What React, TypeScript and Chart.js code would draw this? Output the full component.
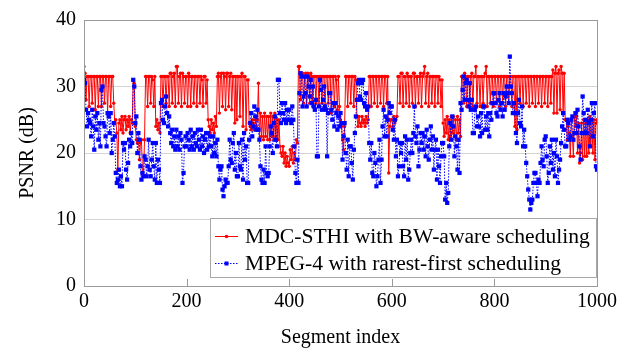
import React, { useEffect, useRef } from "react";
import { Chart, registerables } from "chart.js";

Chart.register(...registerables);

// Segment index spacing between the values listed below
const SEGMENT_STEP = 2;

// MDC-STHI with BW-aware scheduling, PSNR (dB), segments 0,2,4,...,1000
const mdcSthi: number[] = [
  33, 32, 28, 31.5, 31.5, 27, 31.5, 31.5, 27.5, 31.5,
  31.5, 26.5, 31.5, 31.5, 27, 31.5, 31.5, 27, 31.5, 31.5,
  27.5, 31.5, 31.5, 26, 31.5, 31.5, 27, 31.5, 31.5, 27.5,
  24.5, 25, 23, 17.5, 24.5, 25, 23.5, 25.5, 23, 25,
  25.5, 23.5, 25, 24, 25.5, 23, 25, 24.5, 31, 30.5,
  24, 22, 21.5, 22, 19, 21.5, 22, 17, 16.5, 22,
  31.5, 31.5, 27, 31.5, 31.5, 27.5, 31.5, 31, 27, 31.5,
  24, 25, 23.5, 24.5, 23, 31.5, 31.5, 27, 31.5, 31.5,
  27.5, 31.5, 31.5, 27, 32, 32, 27.5, 31.5, 32, 27,
  33, 33, 27.5, 31.5, 32, 27, 32, 31.5, 27.5, 31.5,
  31.5, 27, 32, 31.5, 27, 31.5, 31.5, 27.5, 31.5, 31.5,
  27, 31.5, 31.5, 27.5, 31.5, 31, 27, 31.5, 31.5, 27.5,
  31, 25, 24, 23, 25, 23.5, 24.5, 23, 25.5, 24,
  31.5, 32, 26, 31.5, 32, 27, 32, 31.5, 26.5, 32,
  32, 27, 31.5, 32, 26.5, 31.5, 31.5, 24.5, 31.5, 25,
  31.5, 31.5, 25.5, 31.5, 32, 24, 31.5, 31.5, 23.5, 31,
  31, 24.5, 24, 23.5, 25, 24.5, 23.5, 25, 24, 25,
  30.5, 22, 26, 22.5, 25.5, 22, 26, 22.5, 25.5, 22,
  25.5, 22, 26, 22.5, 25.5, 22, 26, 22.5, 25, 22,
  25, 21, 20, 19.5, 21, 18.5, 20, 18, 19.5, 18.5,
  18, 20.5, 19, 21, 18.5, 20, 19, 22, 21.5, 33,
  33, 28, 32, 32, 27.5, 31.5, 32, 27, 32, 31.5,
  27.5, 32, 31.5, 27, 31.5, 31.5, 27.5, 31.5, 31.5, 27,
  31.5, 31.5, 27.5, 31.5, 31.5, 27, 31.5, 31.5, 27.5, 31.5,
  31.5, 26, 31.5, 31.5, 27, 31.5, 31, 26.5, 31.5, 27,
  25, 24, 22, 20.5, 24, 31.5, 31.5, 27, 31.5, 31.5,
  27.5, 31.5, 31.5, 27, 31.5, 31, 25.5, 24, 25.5, 24.5,
  24, 25.5, 24.5, 25, 24, 25.5, 24.5, 25, 31.5, 31.5,
  27, 31.5, 31.5, 27.5, 31.5, 31.5, 27, 31.5, 31.5, 27.5,
  31.5, 31.5, 27, 31.5, 31.5, 27.5, 31.5, 17, 24, 25,
  25, 24, 25.5, 24.5, 25, 25.5, 31.5, 31.5, 27.5, 32,
  32, 27, 31.5, 31.5, 27.5, 32, 31.5, 27, 31.5, 31.5,
  27.5, 32, 32, 27, 31.5, 31.5, 27.5, 31.5, 32, 27,
  31.5, 32, 33, 27.5, 31.5, 32, 27, 31.5, 31.5, 27.5,
  31.5, 31.5, 27, 31.5, 31.5, 27.5, 31.5, 31, 27, 31,
  24.5, 22.5, 25, 23, 25.5, 22, 25, 22.5, 25.5, 23,
  25.5, 22.5, 25, 22, 25.5, 23, 25, 22.5, 31.5, 31.5,
  27.5, 32, 31.5, 27, 31.5, 31.5, 27.5, 31.5, 32, 27,
  31.5, 31.5, 33, 27.5, 31.5, 31.5, 27, 31.5, 31.5, 27.5,
  31.5, 32, 33, 27, 31.5, 31.5, 27.5, 31.5, 31.5, 27,
  31.5, 31.5, 27.5, 31.5, 31.5, 27, 31.5, 31.5, 27.5, 31.5,
  31.5, 27, 31.5, 31.5, 27.5, 31.5, 31.5, 27, 31.5, 31.5,
  24, 31.5, 23.5, 31.5, 31.5, 27.5, 31.5, 31.5, 27, 31.5,
  31.5, 27.5, 31.5, 31.5, 27, 31.5, 31.5, 27.5, 31.5, 31.5,
  27, 31.5, 31.5, 27.5, 31.5, 31.5, 27, 31.5, 31.5, 27.5,
  31.5, 31.5, 27, 31.5, 31.5, 27.5, 31.5, 32.5, 26, 32,
  33, 26, 32, 32.5, 26.5, 33, 32, 26, 32, 25,
  25, 22, 24, 23, 19.5, 25, 22.5, 19.5, 25.5, 24,
  25.5, 20, 24.5, 18.5, 20, 24.5, 19, 25, 19.5, 24.5,
  19.5, 25, 20, 25.5, 21, 24.5, 20, 25, 19, 24.5,
  25,
];

// MPEG-4 with rarest-first scheduling, PSNR (dB), segments 0,2,4,...,1000
const mpeg4: number[] = [
  31, 30.5, 26.5, 24, 26, 25, 24.5, 22.5, 26.5, 24,
  20.5, 25.5, 23.5, 26, 22, 24.5, 21, 29.5, 30, 24.5,
  24, 22.5, 21, 26, 25.5, 23, 26, 20, 22, 24.5,
  22.5, 17, 15.5, 16, 17.5, 15, 16.5, 15, 21.5, 20.5,
  21.5, 17.5, 16, 18.5, 22, 21, 23, 21.5, 31, 30,
  24.5, 25.5, 20, 23, 22, 18, 16, 17, 16.5, 19.5,
  19, 16.5, 18, 22, 17.5, 16.5, 19, 21.5, 18, 16,
  21.5, 15.5, 19, 17.5, 15.5, 27.5, 28, 25, 24.5, 27,
  28.5, 26, 24, 25.5, 23, 21.5, 23.5, 21, 22.5, 20.5,
  23.5, 21, 22.5, 20.5, 23, 22, 15.5, 17, 21, 22.5,
  21, 23, 22, 20.5, 23.5, 21, 22.5, 20.5, 23, 21.5,
  21, 23.5, 22, 20.5, 23.5, 21, 22.5, 20, 22, 23,
  20.5, 23, 21, 22.5, 21, 19.5, 22.5, 20, 21.5, 19.5,
  22, 18, 16, 17.5, 18, 14.5, 13.5, 15, 16, 15.5,
  15.5, 18, 22, 19, 18.5, 21.5, 23, 17.5, 20, 16.5,
  16.5, 21.5, 18, 17.5, 22, 16, 23, 19, 21, 15.5,
  15.5, 22, 24.5, 26, 22.5, 24, 27, 25.5, 23.5, 26.5,
  23.5, 22, 18, 16, 15.5, 17.5, 15.5, 21, 17, 16.5,
  17, 21, 24, 23, 20, 24.5, 25.5, 22, 21, 31,
  31, 26, 24.5, 27.5, 26, 25, 27.5, 24.5, 26.5, 25,
  26.5, 25, 24.5, 27, 25, 21, 17, 15.5, 19, 15.5,
  29, 32, 31.5, 27, 28.5, 31.5, 29, 27, 31.5, 30,
  28.5, 31, 27.5, 30, 27, 26.5, 28, 19.5, 19.5, 27,
  31, 29.5, 26.5, 28, 30, 27, 26.5, 19.5, 26, 29,
  29, 26.5, 25, 27.5, 24, 27.5, 26, 23.5, 25.5, 24,
  26, 24.5, 19, 22.5, 24.5, 20, 17.5, 22, 16.5, 21,
  21, 18.5, 16, 20.5, 23, 25.5, 28, 30.5, 31, 28.5,
  28, 30.5, 31, 27.5, 27, 29, 26.5, 27, 21.5, 19,
  21.5, 17, 16.5, 20, 18.5, 15, 16.5, 19, 22, 15.5,
  19, 24, 26.5, 22.5, 25.5, 22.5, 25, 27.5, 26, 27,
  27, 23.5, 22, 25, 19.5, 22, 16.5, 18, 21.5, 20,
  21.5, 18, 16.5, 22.5, 19, 22, 16, 17.5, 20, 22,
  20, 23, 27, 22.5, 21.5, 24, 18, 20.5, 23, 21.5,
  23, 20.5, 22.5, 19.5, 23.5, 21, 19, 22, 24, 20.5,
  22.5, 17.5, 20.5, 22, 16, 20.5, 18, 15.5, 19.5, 21.5,
  21.5, 19.5, 13, 15.5, 12.5, 14, 21, 24.5, 22, 25.5,
  24, 19.5, 22.5, 21, 17.5, 22, 17, 27.5, 26.5, 29.5,
  31.5, 28, 30.5, 31, 28, 27, 30.5, 26.5, 28, 23,
  23, 26.5, 27, 24, 25.5, 24, 22.5, 26, 23, 27,
  27, 23.5, 25.5, 23.5, 26, 22.5, 26, 25, 27.5, 29,
  29, 27.5, 26, 25.5, 28, 29, 26.5, 27.5, 25.5, 29,
  26.5, 28.5, 30, 29, 27.5, 34.5, 30, 29, 26, 27.5,
  26, 23, 21.5, 26, 28, 24.5, 24, 27, 21, 23.5,
  21, 18.5, 16.5, 14.5, 13, 11.5, 12.5, 13, 15.5, 17,
  17, 15.5, 13.5, 16, 15.5, 18.5, 21, 19, 18, 22,
  22.5, 19.5, 15.5, 17, 21, 18.5, 22, 17.5, 20, 16.5,
  22, 19.5, 15.5, 17.5, 19, 21.5, 24, 26, 23.5, 21,
  21, 25, 24.5, 22, 22.5, 25, 25.5, 22, 23, 26,
  23, 26.5, 24, 21, 19, 23, 28.5, 26, 23, 25,
  23, 26.5, 24.5, 21, 25, 27.5, 22.5, 26, 27.5, 18,
  17.5,
];

const xTicks: number[] = [0, 200, 400, 600, 800, 1000];
const yTicks: number[] = [0, 10, 20, 30, 40];

const legendLabels: string[] = [
  "MDC-STHI with BW-aware scheduling",
  "MPEG-4 with rarest-first scheduling",
];

const SERIF = "'Liberation Serif', 'Times New Roman', serif";
const RED = "#ff0000";
const BLUE = "#0000ff";
const BORDER = "#9a9a9a";

const toPoints = (vals: number[]) =>
  vals.map((v, i) => ({ x: i * SEGMENT_STEP, y: v }));

const framePlugin = {
  id: "frameAndLegend",
  afterDraw(chart: any) {
    const { ctx, chartArea } = chart;
    const { left, right, top, bottom } = chartArea;
    const xs = chart.scales.x;
    ctx.save();
    ctx.strokeStyle = BORDER;
    ctx.lineWidth = 1;
    ctx.strokeRect(Math.round(left) + 0.5, Math.round(top) + 0.5, Math.round(right - left), Math.round(bottom - top));
    ctx.beginPath();
    xTicks.forEach((t) => {
      if (t === xTicks[0] || t === xTicks[xTicks.length - 1]) return;
      const px = Math.round(xs.getPixelForValue(t)) + 0.5;
      ctx.moveTo(px, bottom);
      ctx.lineTo(px, bottom - 7);
    });
    ctx.stroke();

    // legend box
    const bx = 210, by = 218, bw = 387, bh = 60;
    ctx.fillStyle = "#ffffff";
    ctx.fillRect(bx, by, bw, bh);
    ctx.strokeStyle = "#a8a8a8";
    ctx.strokeRect(bx + 0.5, by + 0.5, bw - 1, bh - 1);

    const rows = [
      { y: 236, color: RED, dash: [] as number[], style: "circle" },
      { y: 263, color: BLUE, dash: [1.5, 1.5], style: "rect" },
    ];
    rows.forEach((r, i) => {
      ctx.strokeStyle = r.color;
      ctx.fillStyle = r.color;
      ctx.lineWidth = 1;
      ctx.setLineDash(r.dash);
      ctx.beginPath();
      ctx.moveTo(215, r.y + 0.5);
      ctx.lineTo(238, r.y + 0.5);
      ctx.stroke();
      ctx.setLineDash([]);
      if (r.style === "circle") {
        ctx.beginPath();
        ctx.arc(226.5, r.y + 0.5, 1.8, 0, Math.PI * 2);
        ctx.fill();
      } else {
        ctx.fillRect(224.5, r.y - 1.5, 4, 4);
      }
      ctx.fillStyle = "#000";
      ctx.font = `21.6px ${SERIF}`;
      ctx.textBaseline = "middle";
      ctx.textAlign = "left";
      ctx.fillText(legendLabels[i], 245, r.y + 1);
    });
    ctx.restore();
  },
};

export default function App() {
  const ref = useRef<HTMLCanvasElement | null>(null);

  useEffect(() => {
    if (!ref.current) return;
    const chart = new Chart(ref.current, {
      type: "line",
      data: {
        datasets: [
          {
            label: legendLabels[0],
            data: toPoints(mdcSthi),
            borderColor: RED,
            backgroundColor: RED,
            borderWidth: 1,
            pointStyle: "circle",
            pointRadius: 1.7,
            pointBorderWidth: 0,
            tension: 0,
            order: 1,
          },
          {
            label: legendLabels[1],
            data: toPoints(mpeg4),
            borderColor: BLUE,
            backgroundColor: BLUE,
            borderWidth: 1,
            borderDash: [1.5, 1.5],
            pointStyle: "rect",
            pointRadius: 3,
            pointBorderWidth: 0,
            tension: 0,
            order: 0,
          },
        ],
      },
      options: {
        animation: false,
        responsive: false,
        maintainAspectRatio: false,
        events: [],
        layout: { padding: { left: 0, right: 35, top: 16, bottom: 0 } },
        plugins: {
          legend: { display: false },
          tooltip: { enabled: false },
        },
        scales: {
          x: {
            type: "linear",
            min: 0,
            max: 1000,
            afterBuildTicks: (s: any) => {
              s.ticks = xTicks.map((v) => ({ value: v }));
            },
            ticks: {
              font: { family: SERIF, size: 20 },
              color: "#000",
              padding: 4,
              maxRotation: 0,
              autoSkip: false,
              callback: (v: any) => String(v),
            },
            grid: { display: false, drawTicks: false },
            border: { display: false },
            title: {
              display: true,
              text: "Segment index",
              font: { family: SERIF, size: 20, lineHeight: 1 },
              color: "#000",
              padding: { top: 0, bottom: 0 },
            },
            afterFit: (s: any) => {
              s.height = 62;
            },
          },
          y: {
            min: 0,
            max: 40,
            afterBuildTicks: (s: any) => {
              s.ticks = yTicks.map((v) => ({ value: v }));
            },
            ticks: {
              font: { family: SERIF, size: 20 },
              color: "#000",
              padding: 8,
              callback: (v: any) => String(v),
            },
            grid: {
              drawTicks: false,
              color: (c: any) =>
                c.tick && (c.tick.value === 0 || c.tick.value === 40) ? "rgba(0,0,0,0)" : "#d4d4d4",
            },
            border: { display: false },
            title: {
              display: true,
              text: "PSNR (dB)",
              font: { family: SERIF, size: 20 },
              color: "#000",
              padding: { top: 16, bottom: 0 },
            },
            afterFit: (s: any) => {
              s.width = 84;
            },
          },
        },
      },
      plugins: [framePlugin],
    });
    return () => chart.destroy();
  }, []);

  return (
    <div style={{ position: "absolute", left: 0, top: 0, width: 632, height: 348, background: "#fff" }}>
      <canvas ref={ref} width={632} height={348} style={{ display: "block" }} />
    </div>
  );
}
